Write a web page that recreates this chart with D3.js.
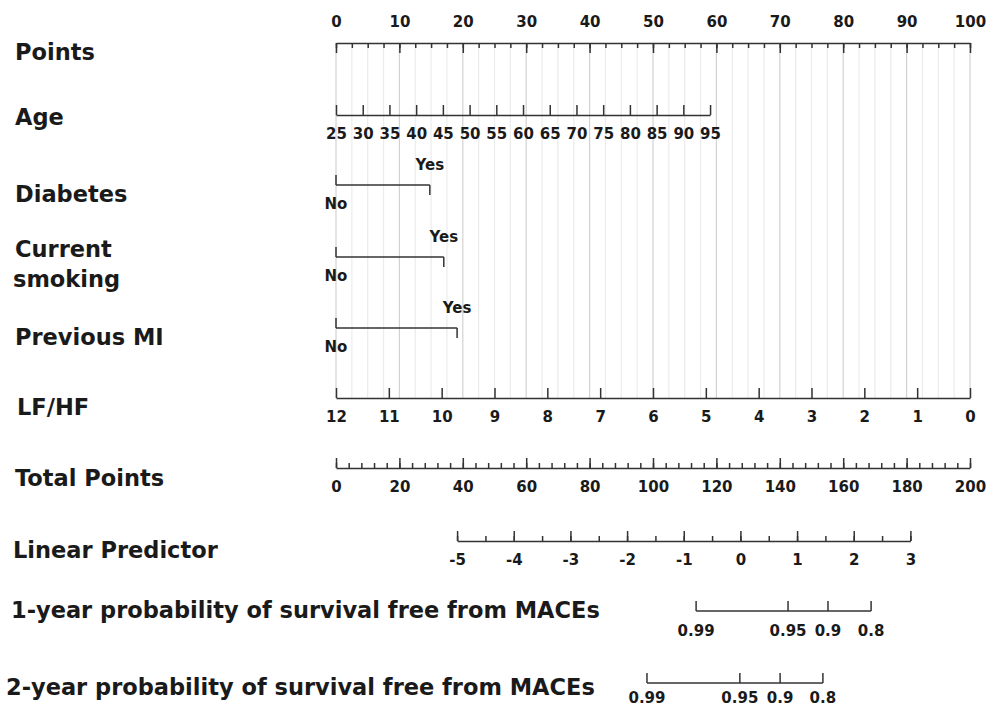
<!DOCTYPE html>
<html>
<head>
<meta charset="utf-8">
<script src="https://cdn.jsdelivr.net/npm/d3@7"></script>
<style>
  body { margin: 0; background: #fff; }
  svg text { font-family: "DejaVu Sans", sans-serif; font-weight: bold; fill: #1a1a1a; }
</style>
</head>
<body>
<div id="nomogram"></div>
<script>
// values
const pointsTicks = [0, 10, 20, 30, 40, 50, 60, 70, 80, 90, 100];
const ageTicks = [25, 30, 35, 40, 45, 50, 55, 60, 65, 70, 75, 80, 85, 90, 95];
const ageRange = [25, 95];
const agePoints = [0, 59];
const binaryLevels = ["No", "Yes"];
const diabetesPoints = [0, 14.8];
const smokingPoints = [0, 17.0];
const previousMIPoints = [0, 19.1];
const lfhfTicks = [12, 11, 10, 9, 8, 7, 6, 5, 4, 3, 2, 1, 0];
const lfhfRange = [12, 0];
const lfhfPoints = [0, 100];
const totalTicks = [0, 20, 40, 60, 80, 100, 120, 140, 160, 180, 200];
const lpTicks = [-5, -4, -3, -2, -1, 0, 1, 2, 3];
const lpRange = [-5, 3];
const lpTotal = [38.2, 181.2];
const survTicks = [0.99, 0.95, 0.9, 0.8];
const surv1Total = [113.6, 142.6, 155.2, 168.8];
const surv2Total = [98.1, 127.4, 140.1, 153.6];

const rowLabels = [
  { text: ["Points"], x: 15, y: 60 },
  { text: ["Age"], x: 15, y: 125 },
  { text: ["Diabetes"], x: 15, y: 202 },
  { text: ["Current", "smoking"], x: 15, y: 257 },
  { text: ["Previous MI"], x: 15, y: 345 },
  { text: ["LF/HF"], x: 17, y: 415 },
  { text: ["Total Points"], x: 15, y: 486 },
  { text: ["Linear Predictor"], x: 13, y: 558 },
  { text: ["1-year probability of survival free from MACEs"], x: 11, y: 618 },
  { text: ["2-year probability of survival free from MACEs"], x: 6, y: 695 }
];

const width = 991;
const height = 707;
const ink = "#333";

const svg = d3.select("#nomogram")
  .append("svg")
  .attr("width", width)
  .attr("height", height)
  .style("background-color", "white");

const xPts = d3.scaleLinear([0, 100], [336, 970]);
const xTot = d3.scaleLinear([0, 200], [336, 970]);

// background grid between Points and LF/HF rows
const gridTop = 43, gridBottom = 398;
const gridMinor = d3.range(0, 100.01, 2.5);
svg.append("g")
  .selectAll("line")
  .data(gridMinor)
  .enter().append("line")
  .attr("x1", d => xPts(d)).attr("x2", d => xPts(d))
  .attr("y1", gridTop).attr("y2", gridBottom)
  .attr("stroke", d => d % 10 === 0 ? "#d2d2d2" : "#ececec")
  .attr("stroke-width", 1.2);

// style an axis group
function styleAxis(g, fontSize) {
  g.selectAll("path, line").attr("stroke", ink).attr("stroke-width", 1.5);
  g.selectAll("text").style("font-size", fontSize + "px").attr("fill", "#1a1a1a");
  g.attr("font-family", null).attr("font-size", null);
}

// axis with ticks pointing up and labels below
function upAxis(y, scale, ticks, minor, fmt) {
  const g = svg.append("g").attr("transform", `translate(0,${y})`);
  if (minor) {
    const gm = g.append("g").call(d3.axisBottom(scale).tickValues(minor).tickSize(-5).tickSizeOuter(0).tickFormat(""));
    gm.select(".domain").remove();
    styleAxis(gm, 15);
  }
  const ga = g.append("g").call(d3.axisBottom(scale)
    .tickValues(ticks).tickSize(-10).tickSizeOuter(0).tickPadding(13)
    .tickFormat(fmt || (d => String(d))));
  styleAxis(ga, 15);
  return ga;
}

// Points: ticks hang down, labels above
{
  const g = svg.append("g").attr("transform", "translate(0,43)");
  const gm = g.append("g").call(d3.axisTop(xPts).tickValues(d3.range(0, 100.01, 2.5)).tickSize(-5).tickSizeOuter(0).tickFormat(""));
  gm.select(".domain").remove();
  styleAxis(gm, 15);
  const ga = g.append("g").call(d3.axisTop(xPts).tickValues(pointsTicks).tickSize(-10).tickSizeOuter(0).tickPadding(16));
  styleAxis(ga, 15);
}

// Age
const xAge = d3.scaleLinear(ageRange, agePoints.map(xPts));
upAxis(115, xAge, ageTicks);

// binary predictors
function binaryRow(y, pts) {
  const g = svg.append("g");
  const x0 = xPts(pts[0]), x1 = xPts(pts[1]);
  g.append("line").attr("x1", x0).attr("x2", x1).attr("y1", y).attr("y2", y);
  g.append("line").attr("x1", x0).attr("x2", x0).attr("y1", y - 10).attr("y2", y);
  g.append("line").attr("x1", x1).attr("x2", x1).attr("y1", y).attr("y2", y + 10);
  g.selectAll("line").attr("stroke", ink).attr("stroke-width", 1.5);
  g.append("text").attr("x", x0).attr("y", y + 24).attr("text-anchor", "middle")
    .style("font-size", "15px").text(binaryLevels[0]);
  g.append("text").attr("x", x1).attr("y", y - 15).attr("text-anchor", "middle")
    .style("font-size", "15px").text(binaryLevels[1]);
}
binaryRow(185, diabetesPoints);
binaryRow(257, smokingPoints);
binaryRow(328, previousMIPoints);

// LF/HF
const xLf = d3.scaleLinear(lfhfRange, lfhfPoints.map(xPts));
upAxis(398, xLf, lfhfTicks);

// Total Points
upAxis(468, xTot, totalTicks, d3.range(0, 200.01, 4));

// Linear Predictor
const xLp = d3.scaleLinear(lpRange, lpTotal.map(xTot));
upAxis(541, xLp, lpTicks, d3.range(-5, 3.01, 0.5));

// survival probabilities
function survRow(y, totals, labelDy) {
  const pos = totals.map(xTot);
  const g = svg.append("g").attr("transform", `translate(0,${y})`);
  g.append("line").attr("x1", pos[0]).attr("x2", pos[pos.length - 1]).attr("y1", 0).attr("y2", 0);
  g.selectAll(".tk").data(pos).enter().append("line").attr("class", "tk")
    .attr("x1", d => d).attr("x2", d => d).attr("y1", -10).attr("y2", 0);
  g.selectAll("line").attr("stroke", ink).attr("stroke-width", 1.5);
  g.selectAll("text").data(survTicks).enter().append("text")
    .attr("x", (d, i) => pos[i]).attr("y", labelDy).attr("text-anchor", "middle")
    .style("font-size", "15px").text(d => String(d));
}
survRow(611, surv1Total, 25);
survRow(683, surv2Total, 20);

// row labels
rowLabels.forEach(r => {
  const t = svg.append("text").attr("x", r.x).attr("y", r.y).style("font-size", "22.5px");
  r.text.forEach((s, i) => {
    t.append("tspan").attr("x", i === 0 ? r.x : r.x - 2).attr("dy", i === 0 ? 0 : 30).text(s);
  });
});
</script>
</body>
</html>
